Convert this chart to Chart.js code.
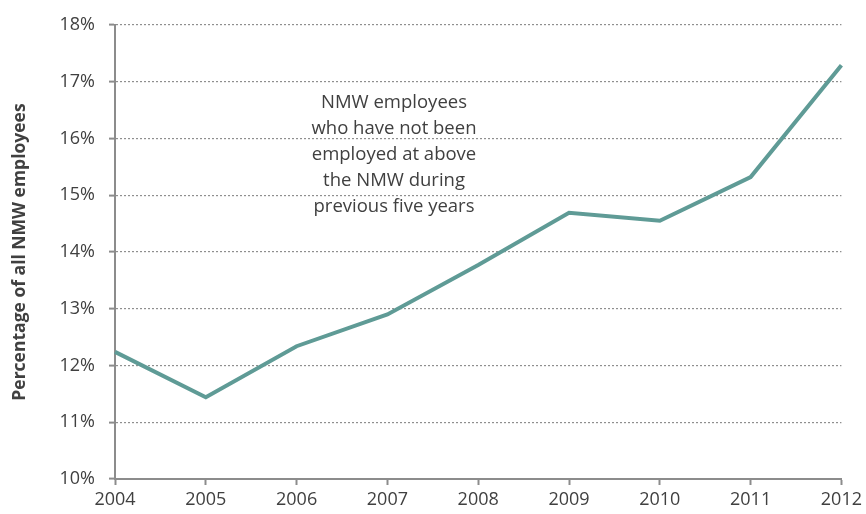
<!DOCTYPE html>
<html lang="en">
<head>
    <meta charset="UTF-8">
    <title>NMW employees not employed above NMW</title>
    <script src="https://cdn.jsdelivr.net/npm/chart.js"></script>
    <style>
        html, body { margin: 0; padding: 0; background: #fff; }
        #wrap { width: 866px; height: 514px; }
    </style>
</head>
<body>
    <div id="wrap"><canvas id="nmwChart" width="866" height="514"></canvas></div>

    <script>
        // Data
        var years = ['2004', '2005', '2006', '2007', '2008', '2009', '2010', '2011', '2012'];
        var sharePct = [12.24, 11.44, 12.34, 12.90, 13.77, 14.69, 14.55, 15.32, 17.29];
        var noteLines = ['NMW employees', 'who have not been', 'employed at above', 'the NMW during', 'previous five years'];

        var textColor = '#404040';
        var axisColor = '#8c8c8c';
        var fontFamily = "'Open Sans', 'Liberation Sans', sans-serif";

        // Draw the in-chart note
        var notePlugin = {
            id: 'note',
            afterDraw: function (chart) {
                var ctx = chart.ctx;
                ctx.save();
                ctx.fillStyle = textColor;
                ctx.font = '18.5px ' + fontFamily;
                ctx.textAlign = 'center';
                ctx.textBaseline = 'middle';
                noteLines.forEach(function (line, i) {
                    ctx.fillText(line, 394, 103 + i * 26);
                });
                ctx.restore();
            }
        };

        var ctx = document.getElementById('nmwChart').getContext('2d');
        var nmwChart = new Chart(ctx, {
            type: 'line',
            data: {
                labels: years,
                datasets: [{
                    data: sharePct,
                    borderColor: '#5f9b96',
                    borderWidth: 4,
                    pointRadius: 0,
                    tension: 0,
                    fill: false
                }]
            },
            options: {
                responsive: false,
                animation: false,
                layout: { padding: { top: 25, right: 22, left: 0, bottom: 0 } },
                plugins: {
                    legend: { display: false },
                    tooltip: { enabled: false }
                },
                scales: {
                    x: {
                        offset: false,
                        grid: {
                            drawOnChartArea: false,
                            drawTicks: true,
                            tickLength: 6,
                            tickColor: axisColor,
                            tickWidth: 2
                        },
                        border: { color: axisColor, width: 2 },
                        ticks: {
                            color: textColor,
                            font: { family: fontFamily, size: 18 },
                            padding: 4,
                            maxRotation: 0
                        },
                        afterFit: function (scale) { scale.height = 35; }
                    },
                    y: {
                        min: 10,
                        max: 18,
                        ticks: {
                            stepSize: 1,
                            color: textColor,
                            font: { family: fontFamily, size: 18 },
                            padding: 14,
                            callback: function (v) { return v + '%'; }
                        },
                        grid: {
                            color: '#8f8f8f',
                            lineWidth: 1.2,
                            tickLength: 6,
                            tickColor: axisColor,
                            tickWidth: 2,
                            tickBorderDash: []
                        },
                        border: { color: axisColor, width: 2, dash: [2, 2] },
                        title: {
                            display: true,
                            text: 'Percentage of all NMW employees',
                            color: textColor,
                            font: { family: fontFamily, size: 17.5, weight: 'bold' },
                            padding: { top: 10, bottom: 2 }
                        },
                        afterFit: function (scale) { scale.width = 115; }
                    }
                }
            },
            plugins: [notePlugin]
        });
    </script>
</body>
</html>
